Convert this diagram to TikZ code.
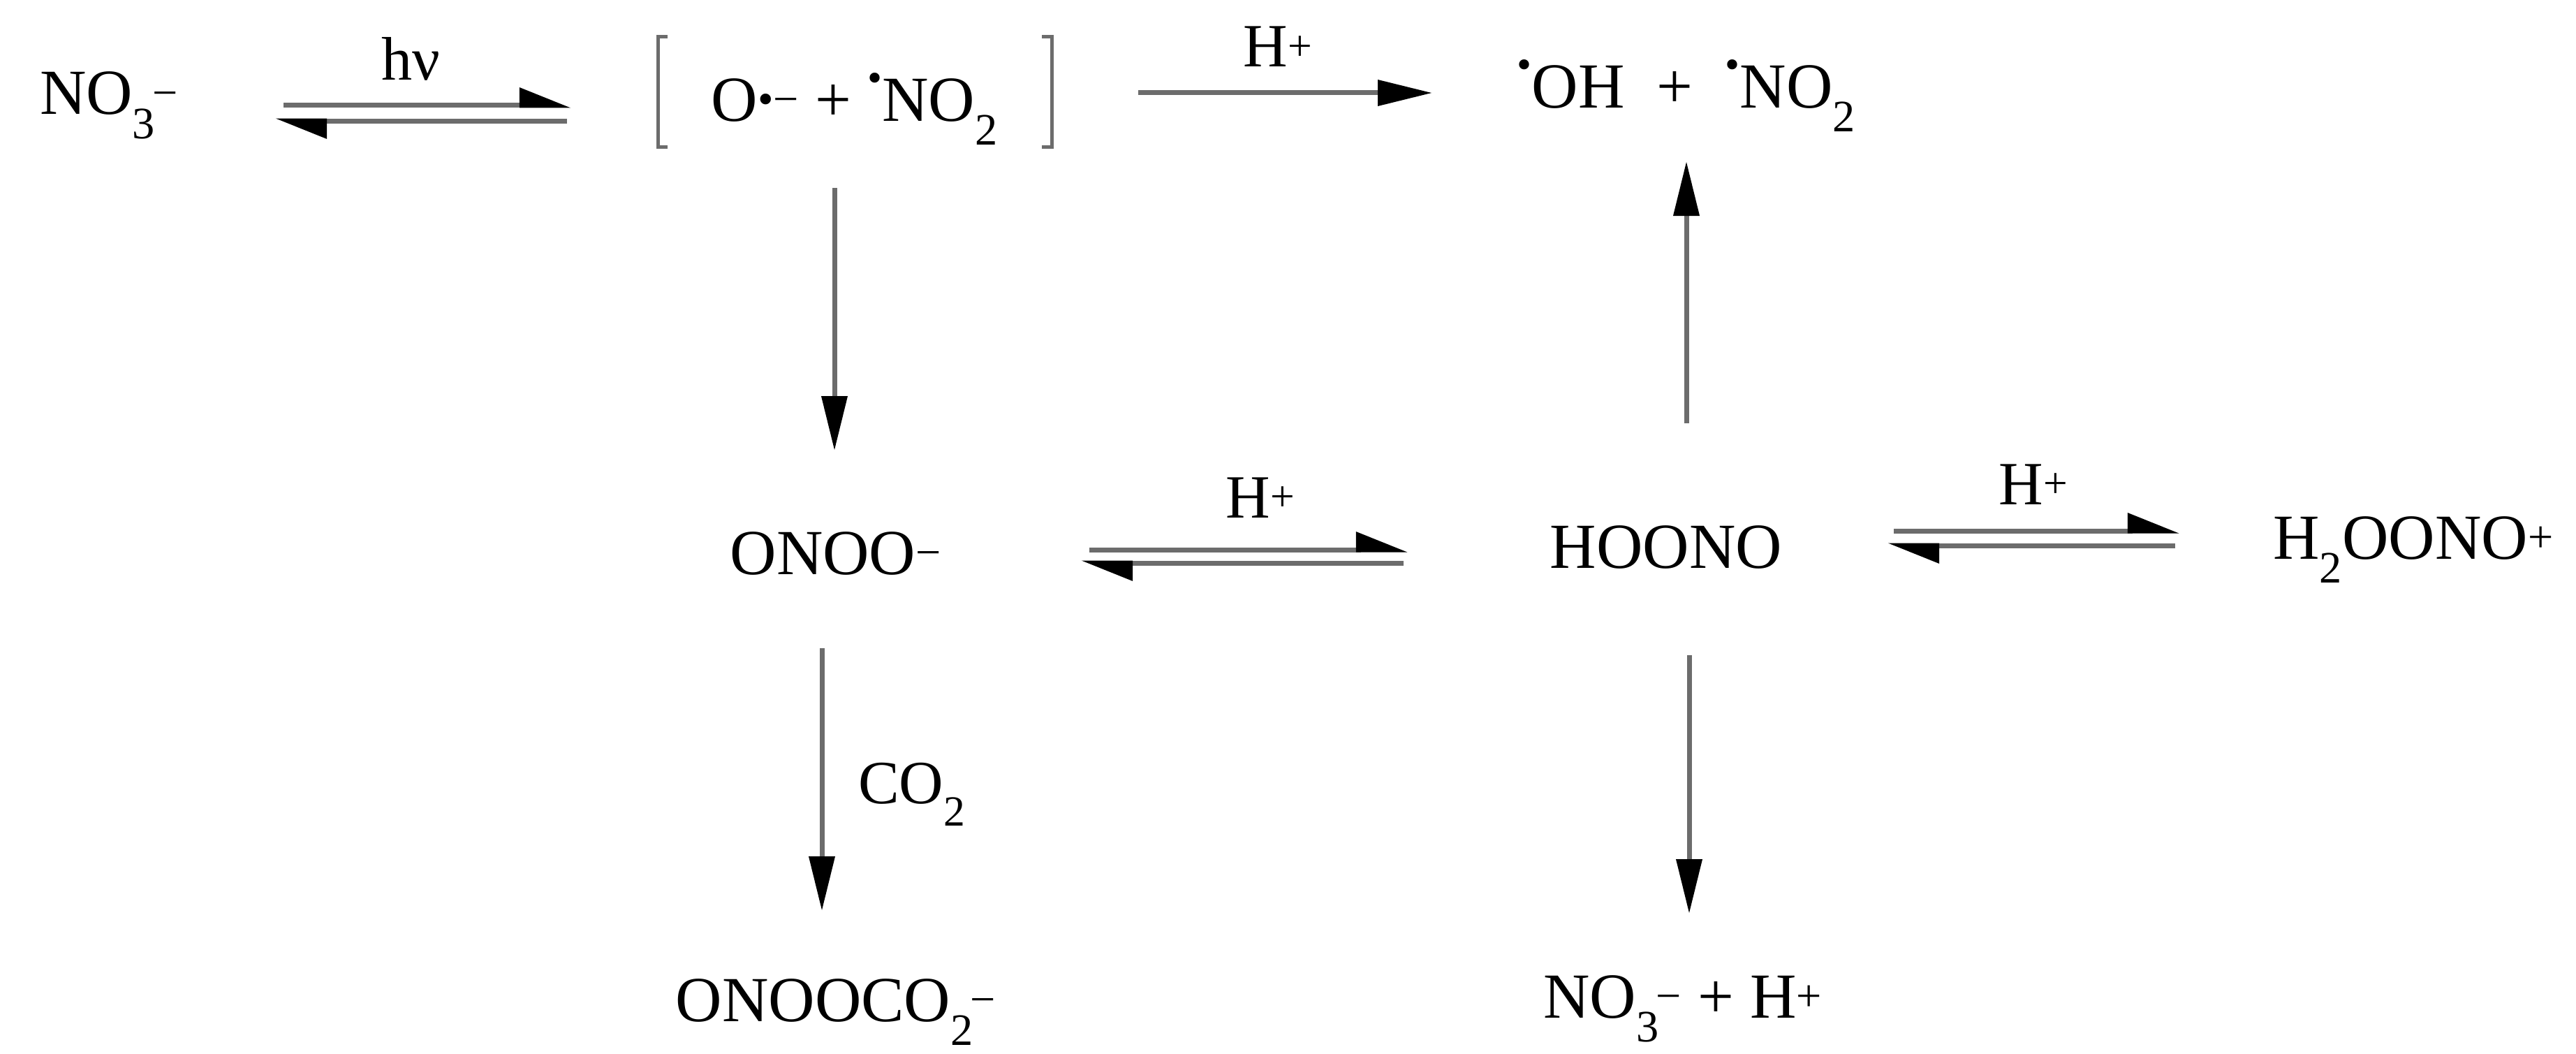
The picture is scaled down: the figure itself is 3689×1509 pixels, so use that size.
\documentclass[tikz,border=0pt]{standalone}
\usepackage{fontspec}
\setmainfont{Liberation Serif}
\usetikzlibrary{arrows.meta}
\newcommand{\ssp}[2]{\textsubscript{#1}\kern-0.05em\textsuperscript{#2}}
\newcommand{\rad}{\raisebox{0.45em}{\fontsize{60}{60}\selectfont •}}
\begin{document}
\begin{tikzpicture}[x=1pt,y=-1pt,
  chem/.style={font=\fontsize{92}{100}\selectfont, anchor=base, inner sep=0pt},
  lbl/.style={font=\fontsize{88}{96}\selectfont, anchor=base, inner sep=0pt},
  rxn/.style={draw=gray!85!black, line width=7pt, -{Triangle[length=78pt,width=36pt,black]}},
  half/.style={draw=gray!85!black, line width=7pt, -{Triangle[length=65pt,width=50pt,left,black]}},
  brk/.style={draw=gray!85!black, line width=5pt}]
\useasboundingbox (0,0) rectangle (3689,1509);
% nodes
\node[chem] (no3) at (156,164) {NO\ssp{3}{−}};
\node[lbl] (hv) at (588,115) {hν};
\node[chem] (orad) at (1224,173) {O\textsuperscript{•−} + \rad NO\textsubscript{2}};
\node[lbl] (hp1) at (1830,96) {H\textsuperscript{+}};
\node[chem] (oh) at (2415,154) {\rad OH\ \ +\ \ \rad NO\textsubscript{2}};
\node[chem] (onoo) at (1197,822) {ONOO\textsuperscript{−}};
\node[lbl] (hp2) at (1805,741) {H\textsuperscript{+}};
\node[chem] (hoono) at (2386,813) {HOONO};
\node[lbl] (hp3) at (2912,722) {H\textsuperscript{+}};
\node[chem] (h2oono) at (3456,800) {H\textsubscript{2}OONO\textsuperscript{+}};
\node[lbl] (co2) at (1306,1150) {CO\textsubscript{2}};
\node[chem] (onoocoo) at (1197,1462) {ONOOCO\ssp{2}{−}};
\node[chem] (no3h) at (2410,1457) {NO\ssp{3}{−} + H\textsuperscript{+}};
% brackets
\draw[brk] (956,53) -- (942,53) -- (942,210) -- (956,210);
\draw[brk] (1492,53) -- (1506,53) -- (1506,210) -- (1492,210);
% coordinates
\coordinate (e1a) at (406,151); \coordinate (e1b) at (818,151);
\coordinate (e1c) at (812,173); \coordinate (e1d) at (394,173);
\coordinate (e2a) at (1560,787); \coordinate (e2b) at (2016,787);
\coordinate (e2c) at (2010,806); \coordinate (e2d) at (1548,806);
\coordinate (e3a) at (2712,760); \coordinate (e3b) at (3121,760);
\coordinate (e3c) at (3115,781); \coordinate (e3d) at (2703,781);
\coordinate (a1s) at (1630,133); \coordinate (a1e) at (2051,133);
\coordinate (v1s) at (1195,269); \coordinate (v1e) at (1195,645);
\coordinate (v2s) at (1177,928); \coordinate (v2e) at (1177,1304);
\coordinate (v3s) at (2415,606); \coordinate (v3e) at (2415,231);
\coordinate (v4s) at (2419,938); \coordinate (v4e) at (2419,1308);
% arrows
\draw[half] (e1a) -- (e1b); \draw[half] (e1c) -- (e1d);
\draw[half] (e2a) -- (e2b); \draw[half] (e2c) -- (e2d);
\draw[half] (e3a) -- (e3b); \draw[half] (e3c) -- (e3d);
\draw[rxn] (a1s) -- (a1e);
\draw[rxn] (v1s) -- (v1e);
\draw[rxn] (v2s) -- (v2e);
\draw[rxn] (v3s) -- (v3e);
\draw[rxn] (v4s) -- (v4e);
\end{tikzpicture}
\end{document}
